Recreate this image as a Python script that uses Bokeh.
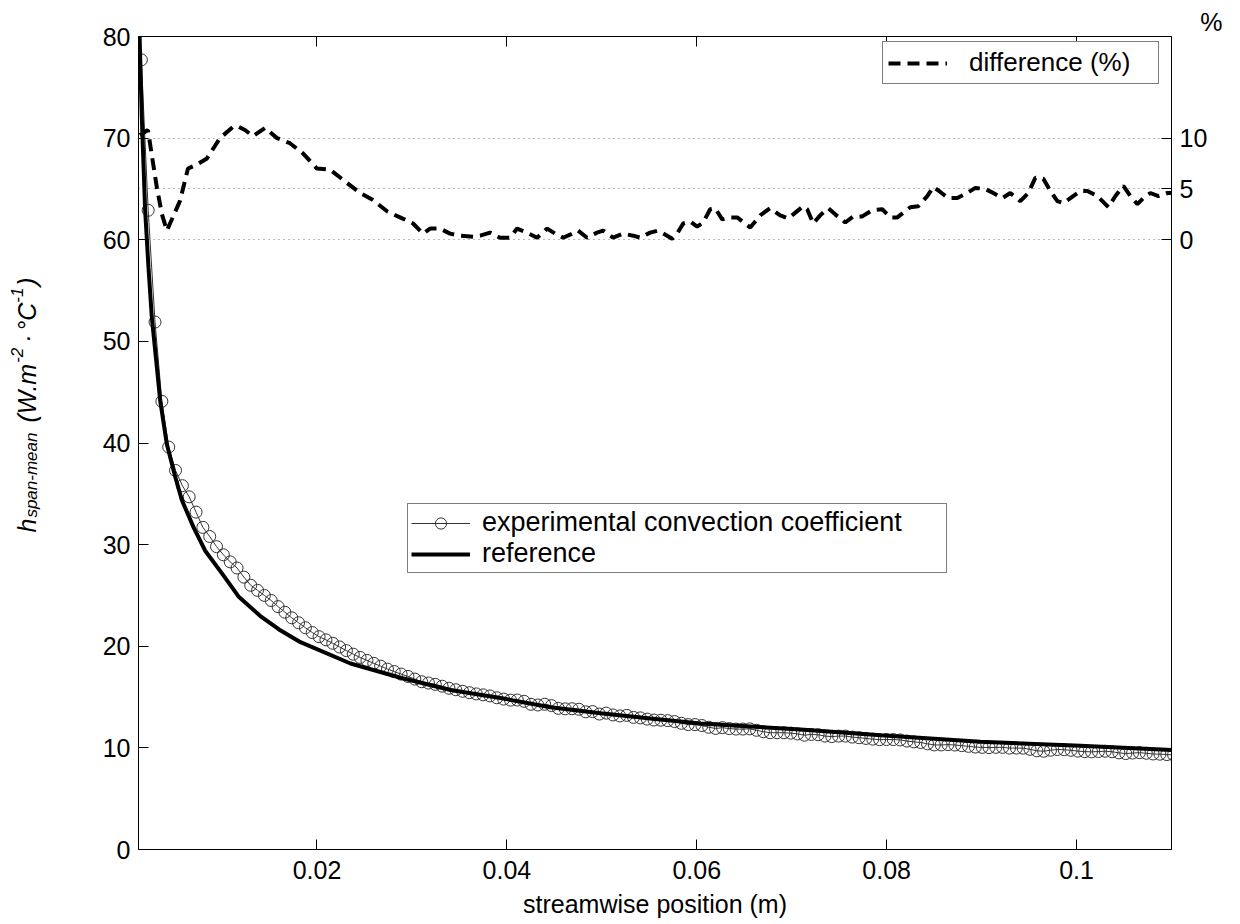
import numpy as np
from bokeh.plotting import figure
from bokeh.layouts import row
from bokeh.models import (Range1d, LinearAxis, FixedTicker, Grid, Legend, LegendItem,
                          Title, CustomJSTickFormatter)
from bokeh.core.properties import value
from bokeh.embed import file_html
from bokeh.resources import INLINE

FONT = "Liberation Sans"

# ---------------- data ----------------
ref_x = [0.0012, 0.00155, 0.0019, 0.00225, 0.0026, 0.00313, 0.00348, 0.00418, 0.00506,
         0.00576, 0.0070, 0.00822, 0.00997, 0.01173, 0.0140, 0.0160, 0.01826, 0.02353,
         0.0288, 0.03406, 0.03933, 0.0446, 0.04986, 0.05513, 0.0604, 0.06566, 0.07093,
         0.07935, 0.08988, 0.10042, 0.1100]
ref_h = [84.0, 72.0, 62.9, 57.3, 52.4, 47.5, 44.2, 39.9, 36.7,
         34.4, 31.7, 29.4, 27.2, 24.9, 23.0, 21.65, 20.4, 18.3,
         16.9, 15.7, 14.9, 14.0, 13.4, 12.9, 12.4, 12.1, 11.8,
         11.25, 10.6, 10.2, 9.8]

exp_x0 = 0.0015
exp_dx = 0.00072
exp_h = [77.7, 62.9, 51.9, 44.1, 39.6, 37.3, 35.8, 34.7, 33.2, 31.7,
         30.8, 29.8, 29.0, 28.3, 27.7, 26.8, 26.0, 25.5, 25.0, 24.5,
         23.9, 23.35, 22.8, 22.31, 21.82, 21.35, 20.94, 20.63, 20.29, 19.93,
         19.57, 19.22, 18.90, 18.61, 18.32, 18.04, 17.75, 17.51, 17.26, 17.03,
         16.77, 16.51, 16.38, 16.25, 16.07, 15.87, 15.72, 15.57, 15.43, 15.31,
         15.22, 15.11, 14.93, 14.80, 14.70, 14.71, 14.58, 14.29, 14.22, 14.29,
         14.16, 13.89, 13.84, 13.85, 13.80, 13.55, 13.57, 13.33, 13.42, 13.24,
         13.14, 13.20, 13.00, 12.95, 12.83, 12.74, 12.72, 12.68, 12.59, 12.42,
         12.29, 12.29, 12.20, 12.03, 11.91, 11.99, 11.90, 11.85, 11.85, 11.87,
         11.73, 11.59, 11.49, 11.49, 11.49, 11.45, 11.37, 11.25, 11.32, 11.29,
         11.16, 11.11, 11.16, 11.16, 11.06, 11.00, 10.93, 10.86, 10.81, 10.82,
         10.82, 10.78, 10.67, 10.59, 10.53, 10.40, 10.29, 10.29, 10.32, 10.28,
         10.22, 10.15, 10.08, 10.05, 10.03, 10.05, 10.05, 9.98, 9.98, 9.97,
         9.86, 9.71, 9.67, 9.77, 9.84, 9.82, 9.76, 9.68, 9.63, 9.61,
         9.64, 9.67, 9.62, 9.51, 9.44, 9.49, 9.53, 9.47, 9.40, 9.38, 9.34, 9.31]
exp_x = [exp_x0 + exp_dx * i for i in range(len(exp_h))]

diff_x = [0.00135, 0.00219, 0.00314, 0.00367, 0.00419, 0.00556, 0.00641, 0.00736, 0.00841,
          0.00978, 0.01115, 0.01157, 0.01241, 0.01326, 0.01452, 0.01579, 0.01715, 0.01852,
          0.02, 0.02137, 0.02274, 0.02453, 0.0259, 0.02738, 0.02875, 0.03012, 0.03117,
          0.03191, 0.03296, 0.03401, 0.03507, 0.03644, 0.03718, 0.03823, 0.03928, 0.04034,
          0.04107, 0.04213, 0.04318, 0.04424, 0.04508, 0.04592, 0.04666, 0.0475, 0.04845,
          0.0495, 0.05014, 0.05119, 0.05224, 0.0533, 0.05404, 0.05509, 0.05593, 0.05688,
          0.05741, 0.05793, 0.05857, 0.0593, 0.06004, 0.06067, 0.06141, 0.06194, 0.06268,
          0.06352, 0.06426, 0.06563, 0.06668, 0.06773, 0.06879, 0.06963, 0.07016, 0.07121,
          0.07163, 0.07227, 0.073, 0.07385, 0.07458, 0.07564, 0.07648, 0.07743, 0.07848,
          0.07954, 0.08038, 0.08112, 0.08249, 0.08333, 0.08428, 0.08491, 0.08565, 0.08649,
          0.08744, 0.08849, 0.08934, 0.09039, 0.09123, 0.09218, 0.09302, 0.09408, 0.09492,
          0.09566, 0.0965, 0.09724, 0.09798, 0.09861, 0.09935, 0.1004, 0.10114, 0.10219,
          0.10335, 0.10409, 0.10493, 0.10567, 0.10641, 0.10704, 0.10778, 0.10862, 0.10957,
          0.11]
diff_pct = [10.3, 10.8, 5.1, 2.5, 0.9, 3.8, 7.0, 7.4, 8.0,
            10.0, 11.1, 11.2, 10.8, 10.2, 11.0, 10.0, 9.5, 8.5,
            7.0, 6.9, 5.9, 4.6, 3.9, 2.8, 2.2, 1.6, 0.6,
            1.1, 1.1, 0.6, 0.4, 0.3, 0.4, 0.7, 0.2, 0.2,
            1.1, 0.7, 0.2, 1.1, 0.6, 0.2, 0.5, 0.9, 0.2,
            0.7, 0.9, 0.2, 0.6, 0.4, 0.2, 0.7, 0.9, 0.4,
            0.1, 0.6, 1.6, 1.8, 1.3, 1.7, 3.0, 3.1, 2.0,
            2.2, 2.2, 1.2, 2.4, 3.1, 2.4, 2.1, 2.5, 3.3,
            3.0, 1.6, 2.4, 3.1, 2.5, 1.7, 2.3, 2.3, 2.9,
            3.0, 2.2, 2.2, 3.2, 3.3, 4.3, 5.2, 4.7, 4.1,
            4.1, 4.6, 5.1, 5.0, 4.6, 4.1, 4.6, 3.8, 4.6,
            6.1, 6.0, 4.8, 3.8, 3.6, 4.1, 4.8, 4.8, 4.3,
            3.2, 4.3, 5.3, 4.3, 3.5, 4.1, 4.6, 4.3, 4.6,
            4.6]

x_ticks = [0.02, 0.04, 0.06, 0.08, 0.1]
y_ticks = [0, 10, 20, 30, 40, 50, 60, 70, 80]
pct_ticks = [0, 5, 10]

# y-axis label pieces: (text, font px, baseline shift, gap before)
ylabel_parts = [("h", 25, 0, 0), ("span-mean", 17, 5, 1), ("(W.m", 25, 0, 10),
                ("-2", 17, -10, 0), ("\u00b7", 25, 0, 5), ("\u00b0C", 25, 0, 5),
                ("-1", 17, -10, 0), (")", 25, 0, 2)]
ylabel_em = {"h": 0.556, "span-mean": 5.002, "(W.m": 2.388, "-2": 0.889,
             "\u00b7": 0.278, "\u00b0C": 1.122, "-1": 0.889, ")": 0.333}

# ---------------- geometry ----------------
LW = 60                       # width of the y-label strip
TOTAL_H = 921
FRAME_W, FRAME_H = 1033, 813
BORDER_TOP = 36
BORDER_BOTTOM = TOTAL_H - BORDER_TOP - FRAME_H

# ---------------- label strip ----------------
lf = figure(frame_width=LW, frame_height=TOTAL_H, x_range=Range1d(0, LW),
            y_range=Range1d(0, TOTAL_H), output_backend="svg", toolbar_location=None,
            x_axis_type=None, y_axis_type=None, min_border=0, min_border_left=0,
            min_border_right=0, min_border_top=0, min_border_bottom=0)
lf.title = None
lf.outline_line_color = None
lf.xgrid.visible = False
lf.ygrid.visible = False
lf.background_fill_color = "white"
lf.border_fill_color = "white"

ypos = TOTAL_H - 532 + 36
for txt, fs, dx, gap in ylabel_parts:
    ypos += gap
    lf.text(x=[26 + dx], y=[ypos], text=[txt], angle=np.pi / 2,
            text_align="left", text_baseline="alphabetic",
            text_font=value(FONT), text_font_size=value(f"{fs}px"),
            text_font_style="italic", text_color="black")
    ypos += ylabel_em[txt] * fs

# ---------------- main figure ----------------
p = figure(frame_width=FRAME_W, frame_height=FRAME_H,
           x_range=Range1d(0.0012, 0.11), y_range=Range1d(0, 80),
           output_backend="svg", toolbar_location=None,
           min_border_left=138 - LW, min_border_right=58, min_border_top=BORDER_TOP,
           min_border_bottom=BORDER_BOTTOM)
p.title = None
p.extra_y_ranges = {"pct": Range1d(-60, 20)}
p.background_fill_color = "white"
p.border_fill_color = "white"
p.outline_line_color = "black"
p.outline_line_width = 1
p.xgrid.visible = False
p.ygrid.visible = False


def style(ax):
    ax.axis_line_color = "black"
    ax.axis_line_width = 1
    ax.major_tick_line_color = "black"
    ax.major_tick_in = 10
    ax.major_tick_out = 0
    ax.minor_tick_line_color = None
    ax.major_label_text_font = FONT
    ax.major_label_text_font_size = "25px"
    ax.major_label_text_color = "black"


xa = p.xaxis[0]
style(xa)
xa.ticker = FixedTicker(ticks=x_ticks)
xa.formatter = CustomJSTickFormatter(code="return String(Math.round(tick*1000)/1000)")
xa.major_label_standoff = 11
xa.axis_label = "streamwise position (m)"
xa.axis_label_text_font = FONT
xa.axis_label_text_font_size = "25px"
xa.axis_label_text_font_style = "normal"
xa.axis_label_text_color = "black"
xa.axis_label_standoff = 8

ya = p.yaxis[0]
style(ya)
ya.ticker = FixedTicker(ticks=y_ticks)
ya.major_label_standoff = 8

top = LinearAxis(ticker=FixedTicker(ticks=x_ticks),
                 formatter=CustomJSTickFormatter(code="return ''"))
style(top)
top.major_label_standoff = 0
p.add_layout(top, "above")

right = LinearAxis(y_range_name="pct", ticker=FixedTicker(ticks=pct_ticks))
style(right)
right.major_label_standoff = 8
p.add_layout(right, "right")

p.add_layout(Title(text="%", align="right", offset=-51, text_font=FONT,
                   text_font_size="25px", text_font_style="normal",
                   text_color="black", standoff=2), "above")

grid = Grid(dimension=1, ticker=FixedTicker(ticks=pct_ticks), y_range_name="pct",
            grid_line_color="#777777", grid_line_dash="1 4", grid_line_width=1)
p.add_layout(grid)

# ---------------- glyphs ----------------
r_exp_line = p.line(exp_x, exp_h, line_color="#333333", line_width=1)
r_exp_pts = p.scatter(exp_x, exp_h, marker="circle", size=12, fill_color=None,
                      line_color="#333333", line_width=1)
r_ref = p.line(ref_x, ref_h, line_color="black", line_width=4)
r_diff = p.line(diff_x, diff_pct, line_color="black", line_width=4, line_dash="12 7",
                y_range_name="pct")

# ---------------- legends ----------------
def style_legend(lg, fs):
    lg.border_line_color = "black"
    lg.border_line_width = 1
    lg.background_fill_color = "white"
    lg.background_fill_alpha = 1
    lg.margin = 0
    lg.spacing = 0
    lg.glyph_width = 59
    lg.glyph_height = 28
    lg.label_height = 28
    lg.label_text_font = FONT
    lg.label_text_font_size = fs
    lg.label_text_color = "black"


leg1 = Legend(items=[LegendItem(label="difference (%)", renderers=[r_diff])],
              location=(744, 765))
style_legend(leg1, "26px")
leg1.padding = 5
leg1.label_standoff = 22
leg1.label_width = 184
p.add_layout(leg1)

leg2 = Legend(items=[LegendItem(label="experimental convection coefficient",
                                renderers=[r_exp_line, r_exp_pts]),
                     LegendItem(label="reference", renderers=[r_ref])],
              location=(269, 276))
style_legend(leg2, "27px")
leg2.padding = 3
leg2.label_standoff = 12
leg2.label_width = 461
p.add_layout(leg2)

layout = row(lf, p)
open("out.html", "w").write(file_html(layout, INLINE))
